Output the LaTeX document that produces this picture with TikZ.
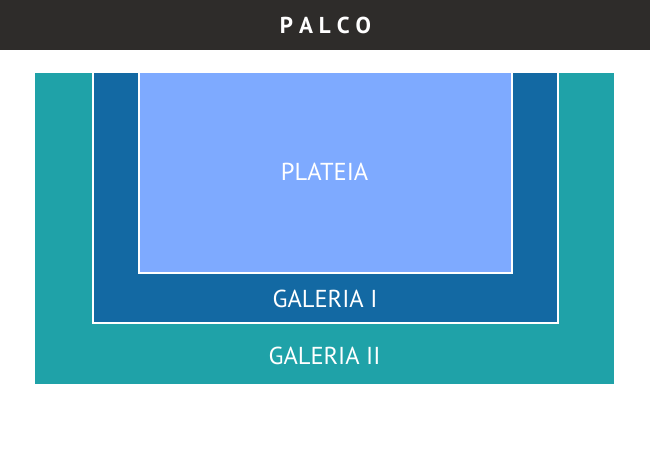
\documentclass[tikz,border=0pt]{standalone}
\usepackage{fontspec}
\setmainfont{PT Sans}
\definecolor{barc}{HTML}{2E2C2A}
\definecolor{tealc}{HTML}{1FA2A8}
\definecolor{darkb}{HTML}{1369A3}
\definecolor{lightb}{HTML}{7EAAFF}
\tikzset{
  lbl/.style={text=white, font=\fontsize{24.5}{24.5}\selectfont, inner sep=0pt, anchor=base},
  sep/.style={draw=white, line width=2pt},
}
\begin{document}
\begin{tikzpicture}[x=1pt,y=-1pt]
\useasboundingbox (0,0) rectangle (650,450);
\fill[barc] (0,0) rectangle (650,50);
\node[text=white, font=\bfseries\fontsize{23}{23}\selectfont, inner sep=0pt, anchor=base] (palco) at (325.5,33.3) {P\hspace{0.26em}A\hspace{0.26em}L\hspace{0.26em}C\hspace{0.26em}O};
\fill[tealc] (35,73) rectangle (614,384);
\fill[darkb] (92.5,73) rectangle (557.5,322.5);
\draw[sep] (92.5,73) -- (92.5,322.5) -- (557.5,322.5) -- (557.5,73);
\fill[lightb] (138.5,73) rectangle (511.5,273);
\draw[sep] (138.5,73) -- (138.5,273) -- (511.5,273) -- (511.5,73);
\node[lbl] (plateia) at (324.5,180.7) {PLATEIA};
\node[lbl] (gal1) at (325,307.7) {GALERIA I};
\node[lbl] (gal2) at (324.5,364.3) {GALERIA II};
\end{tikzpicture}
\end{document}
